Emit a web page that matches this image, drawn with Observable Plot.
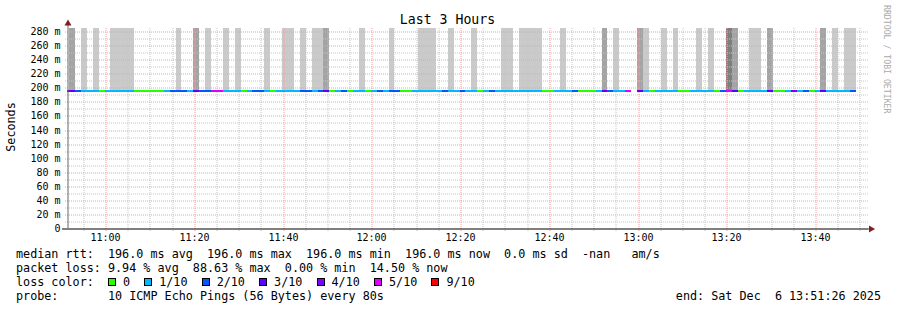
<!DOCTYPE html>
<html>
<head>
<meta charset="utf-8">
<script src="https://cdn.jsdelivr.net/npm/d3@7"></script>
<script src="https://cdn.jsdelivr.net/npm/@observablehq/plot@0.6"></script>
<style>
  html, body { margin: 0; padding: 0; background: #fff; }
  #chart { position: relative; width: 897px; height: 310px; overflow: hidden; background: #fff; }
  #chart > svg { position: absolute; left: 0; top: 0; }
</style>
</head>
<body>
<div id="chart"></div>
<script>
// ---------- data ----------
const chartTitle = "Last 3 Hours";
const yAxisLabel = "Seconds";
const watermark = "RRDTOOL / TOBI OETIKER";
const day = "2025-12-06";
const windowStart = "10:51:26";
const windowEnd = "13:51:26";
const firstStepStart = "10:50:34";
const stepSeconds = 80;
const medianRtt = 196.0;
const yTop = 284.3;

const xTickLabels = ["11:00", "11:20", "11:40", "12:00", "12:20", "12:40", "13:00", "13:20", "13:40"];
const yTickValues = [0, 20, 40, 60, 80, 100, 120, 140, 160, 180, 200, 220, 240, 260, 280];

// lost pings (of 10) per 80 s step; null = no data
const lossPerStep = [
  3,3,2,1,1,1,0,1,1,1,
  1,1,0,0,0,0,0,1,2,2,
  2,1,3,2,2,5,5,1,1,1,
  0,1,2,2,1,0,1,1,1,1,
  2,2,1,2,3,0,1,2,0,1,
  1,0,1,2,1,2,2,0,0,1,
  1,1,1,1,2,1,1,2,1,1,
  0,1,2,1,1,1,1,1,1,1,
  1,0,0,1,1,1,2,0,0,0,
  1,3,2,1,1,5,null,3,1,0,
  1,1,1,1,0,0,1,1,1,1,
  0,2,5,3,0,1,1,1,1,3,
  0,0,1,4,1,2,0,1,3,1,
  1,1,1,2
];
// smoke density per step (0 none, 1 light, 2 medium, 3 dark)
const smokePerStep = [
  0,2,0,1,0,1,0,0,1,1,
  1,1,0,0,0,0,0,0,0,1,
  0,0,2,0,1,0,0,1,0,1,
  0,0,0,0,1,0,0,1,1,0,
  1,0,1,1,2,0,0,0,0,0,
  1,0,0,0,0,1,0,0,0,0,
  1,1,1,0,0,1,0,0,0,1,
  0,0,0,0,1,1,0,1,1,1,
  1,0,0,0,1,0,0,0,0,0,
  0,2,0,1,0,0,0,2,1,0,
  0,1,0,1,0,0,0,1,0,1,
  0,0,3,2,0,0,1,1,0,2,
  0,0,0,0,0,0,0,0,2,0,
  1,0,1,1
];

const lossKeys = [0, 1, 2, 3, 4, 5, 9];
const lossLabels = ["0", "1/10", "2/10", "3/10", "4/10", "5/10", "9/10"];
const lossColors = ["#26ff00", "#00b8ff", "#0059ff", "#5e00ff", "#7e00ff", "#dd00ff", "#ff0000"];
const smokeKeys = [1, 2, 3];
const smokeColors = ["#cacaca", "#a4a4a4", "#7e7e7e"];

const statsRtt = "median rtt:  196.0 ms avg  196.0 ms max  196.0 ms min  196.0 ms now  0.0 ms sd  -nan   am/s";
const statsLoss = "packet loss: 9.94 % avg  88.63 % max  0.00 % min  14.50 % now";
const lossColorTitle = "loss color:";
const probeLine = "probe:       10 ICMP Echo Pings (56 Bytes) every 80s";
const endLine = "end: Sat Dec  6 13:51:26 2025";

// ---------- build ----------
const at = hms => new Date(`${day}T${hms}Z`);
const x0 = at(windowStart), x1 = at(windowEnd);
const t0 = at(firstStepStart);
const steps = lossPerStep.map((loss, i) => ({
  start: new Date(+t0 + i * stepSeconds * 1000),
  end: new Date(+t0 + (i + 1) * stepSeconds * 1000),
  loss,
  smoke: smokePerStep[i]
}));
const lossColor = new Map(lossKeys.map((k, i) => [k, lossColors[i]]));
const smokeColor = new Map(smokeKeys.map((k, i) => [k, smokeColors[i]]));

const xMajor = xTickLabels.map(l => at(l + ":00"));
const xMinor = d3.utcMinute.every(5).range(x0, x1).filter(d => d.getUTCMinutes() % 20 !== 0);
const yMajor = yTickValues.filter(v => v > 0);
const yMinor = yTickValues.slice(0, -1).map((v, i) => (v + yTickValues[i + 1]) / 2);

const majorGrid = "#f0a0a0";
const minorGrid = "#c4c4c4";
const arrowColor = "#7f1f1f";

const plot = Plot.plot({
  width: 897,
  height: 245,
  marginLeft: 67,
  marginRight: 31.25,
  marginTop: 28,
  marginBottom: 17,
  style: {fontFamily: "'DejaVu Sans Mono', monospace", fontSize: "10px", color: "#000", background: "transparent", overflow: "visible"},
  x: {type: "utc", domain: [x0, x1], label: null, round: true},
  y: {domain: [0, yTop], label: null, round: true},
  marks: [
    Plot.rect(steps.filter(d => d.smoke > 0), {
      x1: "start", x2: "end", y1: medianRtt, y2: yTop,
      fill: d => smokeColor.get(d.smoke), shapeRendering: "crispEdges", clip: true
    }),
    Plot.ruleY(yMinor, {stroke: minorGrid, strokeDasharray: "1,1", insetLeft: -2, insetRight: -2, dy: 0.5}),
    Plot.ruleX(xMinor, {y1: yTop, y2: 0, insetBottom: -3, stroke: minorGrid, strokeDasharray: "1,1", dx: 0.5}),
    Plot.ruleY(yMajor, {stroke: majorGrid, strokeDasharray: "1,1", insetLeft: -2, insetRight: -2, dy: 0.5}),
    Plot.ruleX(xMajor, {y1: yTop, y2: 0, insetBottom: -3, stroke: majorGrid, strokeDasharray: "1,1", dx: 0.5}),
    Plot.ruleY(steps.filter(d => d.loss != null), {
      x1: "start", x2: "end", y: medianRtt,
      stroke: d => lossColor.get(d.loss), strokeWidth: 2, shapeRendering: "crispEdges", clip: true
    }),
    Plot.ruleX([x0], {insetTop: -6, stroke: "#666", dx: 0.5}),
    Plot.ruleY([0], {insetLeft: -5, insetRight: -3, stroke: "#000", dy: 0.5}),
    Plot.dot([x0], {x: d => d, y: yTop, dy: -5, dx: 0.5, symbol: "triangle", r: 2.6, fill: arrowColor, stroke: "none"}),
    Plot.dot([x1], {x: d => d, y: 0, dx: 4.5, dy: 0.5, symbol: "triangle", rotate: 90, r: 2.6, fill: arrowColor, stroke: "none"}),
    Plot.axisY(yTickValues, {tickSize: 0, tickPadding: 7, label: null, tickFormat: v => v === 0 ? "0" : `${v} m`}),
    Plot.axisX(xMajor, {tickSize: 0, tickPadding: 5.5, label: null, tickFormat: d3.utcFormat("%H:%M")})
  ]
});
document.getElementById("chart").appendChild(plot);

// ---------- text overlay (title, axis label, legend) ----------
const fontMono = "'DejaVu Sans Mono', monospace";
const legendSize = 11.75;
const adv = legendSize * 0.6021;
const ov = d3.select("#chart").append("svg")
  .attr("width", 897).attr("height", 310)
  .style("font-family", fontMono)
  .style("pointer-events", "none");

ov.append("text").attr("x", 447.5).attr("y", 24).attr("text-anchor", "middle")
  .attr("font-size", 13.2).attr("fill", "#000").text(chartTitle);
ov.append("text").attr("transform", "translate(15,127) rotate(-90)").attr("text-anchor", "middle")
  .attr("font-size", legendSize).attr("fill", "#000").text(yAxisLabel);
ov.append("text").attr("transform", "translate(884,5) rotate(90)")
  .attr("font-size", 8.2).attr("fill", "#aaaaaa").text(watermark);

const legendX = 16;
const baselines = [258.3, 272.3, 286.3, 300.3];
const addLine = (txt, y, x = legendX, anchor = "start") =>
  ov.append("text").attr("x", x).attr("y", y).attr("text-anchor", anchor)
    .attr("font-size", legendSize).attr("fill", "#000").style("white-space", "pre").text(txt);

addLine(statsRtt, baselines[0]);
addLine(statsLoss, baselines[1]);
addLine(lossColorTitle, baselines[2]);
addLine(probeLine, baselines[3]);
addLine(endLine, baselines[3], 881, "end");

let bx = legendX + 13 * adv;
lossLabels.forEach((lab, i) => {
  ov.append("rect").attr("x", bx + 0.5).attr("y", baselines[2] - 7.5).attr("width", 7).attr("height", 7)
    .attr("fill", lossColors[i]).attr("stroke", "#000").attr("stroke-width", 1).attr("shape-rendering", "crispEdges");
  const lx = bx + 15;
  addLine(lab, baselines[2], lx);
  bx = lx + (lab.length + 2) * adv;
});
</script>
</body>
</html>
